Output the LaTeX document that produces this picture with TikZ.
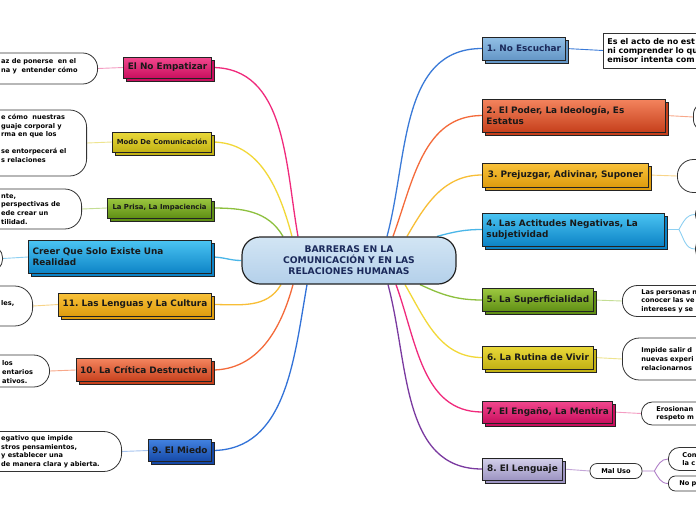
\documentclass[tikz,border=0pt]{standalone}
\usepackage{fontspec}
\setmainfont{DejaVu Sans}
\usetikzlibrary{shadows}
\frenchspacing

\definecolor{boxline}{HTML}{232323}
\definecolor{noteline}{HTML}{333333}
\definecolor{navy}{HTML}{1B2A5B}
\definecolor{hubA}{HTML}{D2E5F4}
\definecolor{hubB}{HTML}{B4D0EA}
% box fills (top / bottom)
\definecolor{pinkA}{HTML}{F2488E}\definecolor{pinkB}{HTML}{C90F5E}
\definecolor{yelA}{HTML}{EAD93A}\definecolor{yelB}{HTML}{C2B214}
\definecolor{grnA}{HTML}{9CC840}\definecolor{grnB}{HTML}{5F8E14}
\definecolor{cyaA}{HTML}{4AC4F2}\definecolor{cyaB}{HTML}{0D83C6}
\definecolor{golA}{HTML}{F9C23A}\definecolor{golB}{HTML}{DE9C0E}
\definecolor{orgA}{HTML}{F4845E}\definecolor{orgB}{HTML}{C6401C}
\definecolor{bluA}{HTML}{4282E0}\definecolor{bluB}{HTML}{1548A6}
\definecolor{stlA}{HTML}{92C0E6}\definecolor{stlB}{HTML}{6496C6}
\definecolor{lavA}{HTML}{D4D0EA}\definecolor{lavB}{HTML}{9C94C2}
% branch lines
\definecolor{pinkL}{HTML}{F02A7C}\definecolor{pinkT}{HTML}{F49CC2}
\definecolor{yelL}{HTML}{F2D838}\definecolor{yelT}{HTML}{EEE48E}
\definecolor{grnL}{HTML}{8DC03E}\definecolor{grnT}{HTML}{C4DE94}
\definecolor{cyaL}{HTML}{4AB6E8}\definecolor{cyaT}{HTML}{8ED0F2}
\definecolor{golL}{HTML}{F8BE36}\definecolor{golT}{HTML}{F8D488}
\definecolor{orgL}{HTML}{F46A3A}\definecolor{orgT}{HTML}{F8A88A}
\definecolor{bluL}{HTML}{3272D8}\definecolor{bluT}{HTML}{A6C4F0}
\definecolor{stlL}{HTML}{3A7AD8}
\definecolor{purL}{HTML}{7A3AA0}\definecolor{purT}{HTML}{C4A6D8}
\definecolor{purM}{HTML}{B080C8}

\pgfdeclarelayer{bg}
\pgfsetlayers{bg,main}

\newcommand\hfont{\fontsize{9.2}{11}\selectfont\bfseries}
\newcommand\tfont{\fontsize{8.9}{10.8}\selectfont\bfseries}
\newcommand\sfont{\fontsize{6.9}{8.5}\selectfont\bfseries}
\newcommand\nfont{\fontsize{8}{9.2}\selectfont\bfseries}
\newcommand\dfont{\fontsize{6.6}{8.6}\selectfont\bfseries}

\tikzset{
  hub/.style={draw=boxline, line width=1.2pt, top color=hubA, bottom color=hubB,
    rounded corners=18pt, minimum width=214pt, minimum height=47pt,
    align=center, text=navy, font=\hfont},
  topic/.style={draw=boxline, line width=.9pt, top color=#1A, bottom color=#1B,
    general shadow={fill=#1B, draw=boxline, line width=.9pt,
      shadow xshift=3pt, shadow yshift=-3pt},
    inner xsep=4pt, inner ysep=2pt, align=left, text=black!90, font=\tfont},
  note/.style={draw=noteline, line width=.8pt, fill=white, rounded corners=#1,
    anchor=west, align=left, inner ysep=0pt, font=\dfont},
  note/.default=12pt,
  cliptext/.style={anchor=west, align=left, inner sep=0pt, font=\dfont},
  link/.style={line width=1.3pt},
  twig/.style={line width=.9pt},
}

\begin{document}
\begin{tikzpicture}[x=1pt, y=-1pt]
\useasboundingbox (0,0) rectangle (696,520);
\clip (0,0) rectangle (696,520);

% centre
\node[hub] (hub) at (349,260.5) {BARRERAS EN LA\\COMUNICACIÓN Y EN LAS\\RELACIONES HUMANAS};

% right branches
\node[topic=stl, anchor=west, minimum width=83pt, minimum height=23pt, text=navy] (t1) at (482,48.5) {1. No Escuchar};
\node[topic=org, anchor=west, text width=175pt, minimum height=33pt] (t2) at (482,115.5) {2. El Poder, La Ideología, Es\\Estatus};
\node[topic=gol, anchor=west, minimum width=166pt, minimum height=24pt] (t3) at (482,175) {3. Prejuzgar, Adivinar, Suponer};
\node[topic=cya, anchor=west, text width=174pt, minimum height=33pt] (t4) at (482,229.5) {4. Las Actitudes Negativas, La\\subjetividad};
\node[topic=grn, anchor=west, minimum width=111pt, minimum height=23pt] (t5) at (482,300) {5. La Superficialidad};
\node[topic=yel, anchor=west, minimum width=111pt, minimum height=23pt] (t6) at (482,357.5) {6. La Rutina de Vivir};
\node[topic=pink, anchor=west, minimum width=130pt, minimum height=22pt] (t7) at (482,412) {7. El Engaño, La Mentira};
\node[topic=lav, anchor=west, minimum width=80pt, minimum height=22pt] (t8) at (482,469) {8. El Lenguaje};

% left branches
\node[topic=pink, anchor=east, minimum width=88pt, minimum height=21pt] (l1) at (212,67.5) {El No Empatizar};
\node[topic=yel, anchor=east, minimum width=99pt, minimum height=20pt, font=\sfont] (l2) at (212,142) {Modo De Comunicación};
\node[topic=grn, anchor=east, minimum width=104pt, minimum height=20pt, font=\sfont] (l3) at (212,208) {La Prisa, La Impaciencia};
\node[topic=cya, anchor=east, text width=175pt, minimum height=33pt] (l4) at (212,257) {Creer Que Solo Existe Una\\Realidad};
\node[topic=gol, anchor=east, minimum width=153pt, minimum height=23pt] (l5) at (212,304.5) {11. Las Lenguas y La Cultura};
\node[topic=org, anchor=east, minimum width=135pt, minimum height=23pt] (l6) at (212,370) {10. La Crítica Destructiva};
\node[topic=blu, anchor=east, minimum width=63pt, minimum height=22pt] (l7) at (212,450.5) {9. El Miedo};

% notes, right
\node[note=0pt, inner xsep=4pt, text width=110pt, minimum height=35pt, font=\nfont] (d1) at (603,50.5) {Es el acto de no est\\ni comprender lo qu\\emisor intenta com};
\node[note=14pt, minimum width=120pt, minimum height=32pt] (d2) at (693,117) {};
\node[note=16pt, minimum width=120pt, minimum height=33pt] (d3) at (677,176) {};
\node[note=8pt, minimum width=120pt, minimum height=17pt] (d4a) at (695,214.5) {};
\node[note=13pt, minimum width=120pt, minimum height=27pt] (d4b) at (695,249) {};
\node[note=15pt, inner xsep=19pt, text width=100pt, minimum height=31pt] (d5) at (622,301) {Las personas n\\conocer las ve\\intereses y se};
\node[note=17pt, inner xsep=19pt, text width=100pt, minimum height=42pt] (d6) at (622,359) {Impide salir d\\nuevas experi\\relacionarnos};
\node[note=11pt, inner xsep=15pt, text width=100pt, minimum height=23pt] (d7) at (641,413.5) {Erosionan\\respeto m};
\node[note=7pt, anchor=center, align=center, inner xsep=0pt, minimum width=52pt, minimum height=15pt] (mal) at (616,471) {Mal Uso};
\node[note=11pt, inner xsep=14pt, text width=100pt, minimum height=23pt] (d8a) at (668,459) {Con\\la c};
\node[note=7pt, inner xsep=11pt, text width=100pt, minimum height=15pt] (d8b) at (668,483.5) {No p};

% notes, left (cut by the page edge)
\node[note=15pt, anchor=east, minimum width=200pt, minimum height=31pt] (e1) at (98,68.5) {};
\node[cliptext] (e1t) at (1,66) {az de ponerse~ en el\\na y~ entender cómo};
\node[note=17pt, anchor=east, minimum width=200pt, minimum height=66pt] (e2) at (87,143) {};
\node[cliptext] (e2t) at (1,138.5) {e cómo~ nuestras\\guaje corporal y\\rma en que los\\\mbox{}\\se entorpecerá el\\s relaciones};
\node[note=17pt, anchor=east, minimum width=200pt, minimum height=40pt] (e3) at (82,209) {};
\node[cliptext] (e3t) at (1,209) {nte,\\perspectivas de\\ede crear un\\tilidad.};
\node[note=13pt, anchor=east, minimum width=100pt, minimum height=27pt] (e4) at (3,258.5) {};
\node[note=18pt, anchor=east, minimum width=200pt, minimum height=40pt] (e5) at (33,306) {};
\node[cliptext] (e5t) at (1,303) {les,};
\node[note=16pt, anchor=east, minimum width=200pt, minimum height=32pt] (e6) at (50,371) {};
\node[cliptext] (e6t) at (2,372) {los\\entarios\\ativos.};
\node[note=18pt, anchor=east, minimum width=250pt, minimum height=40pt] (e7) at (122,451.5) {};
\node[cliptext] (e7t) at (1,451.5) {egativo que impide\\stros pensamientos,\\y establecer una\\de manera clara y abierta.};

\begin{pgfonlayer}{bg}
\fill[white] (0,0) rectangle (696,520);
% main branches
\draw[link, stlL] ([xshift=38pt]hub.north) to[out=75, in=180] (t1.west);
\draw[link, orgL] ([xshift=44pt]hub.north) to[out=70, in=180] (t2.west);
\draw[link, golL] ([xshift=58pt]hub.north) to[out=60, in=180] (t3.west);
\draw[link, cyaL] ([xshift=88pt]hub.north) to[out=15, in=180] (t4.west);
\draw[link, grnL] ([xshift=71pt]hub.south) to[out=-25, in=180] (t5.west);
\draw[link, yelL] ([xshift=56pt]hub.south) to[out=-60, in=180] (t6.west);
\draw[link, pinkL] ([xshift=47pt]hub.south) to[out=-70, in=180] (t7.west);
\draw[link, purL] ([xshift=39pt]hub.south) to[out=-75, in=180] (t8.west);
\draw[link, pinkL] ([xshift=-51pt]hub.north) to[out=100, in=0] (l1.east);
\draw[link, yelL] ([xshift=-57pt]hub.north) to[out=105, in=0] (l2.east);
\draw[link, grnL] ([xshift=-66pt]hub.north) to[out=120, in=0] (l3.east);
\draw[link, cyaL] (hub.west) to[out=180, in=0] (l4.east);
\draw[link, golL] ([xshift=-68pt]hub.south) to[out=-120, in=0] (l5.east);
\draw[link, orgL] ([xshift=-56pt]hub.south) to[out=-105, in=0] (l6.east);
\draw[link, bluL] ([xshift=-42pt]hub.south) to[out=-100, in=0] (l7.east);
% to the notes
\draw[twig, stlL] (t1.east) -- (d1.west);
\draw[twig, orgT] (t2.east) -- (d2.west);
\draw[twig, golT] (t3.east) -- (d3.west);
\coordinate (f4) at ([xshift=14pt]t4.east);
\draw[twig, cyaT] (t4.east) -- (f4) to[out=60, in=180] (d4a.west);
\draw[twig, cyaT] (f4) to[out=-60, in=180] (d4b.west);
\draw[twig, grnT] (t5.east) -- (d5.west);
\draw[twig, yelT] (t6.east) -- (d6.west);
\draw[twig, pinkT] (t7.east) -- (d7.west);
\draw[twig, purT] (t8.east) -- (mal.west);
\coordinate (f8) at ([xshift=12pt]mal.east);
\draw[twig, purM] (mal.east) -- (f8) to[out=60, in=180] (d8a.west);
\draw[twig, purM] (f8) to[out=-60, in=180] (d8b.west);
\draw[twig, pinkT] (e1.east) -- (l1.west);
\draw[twig, yelT] (e2.east) -- (l2.west);
\draw[twig, grnT] (e3.east) -- (l3.west);
\draw[twig, cyaT] (e4.east) -- (l4.west);
\draw[twig, golT] (e5.east) -- (l5.west);
\draw[twig, orgT] (e6.east) -- (l6.west);
\draw[twig, bluT] (e7.east) -- (l7.west);
\end{pgfonlayer}
\end{tikzpicture}
\end{document}
